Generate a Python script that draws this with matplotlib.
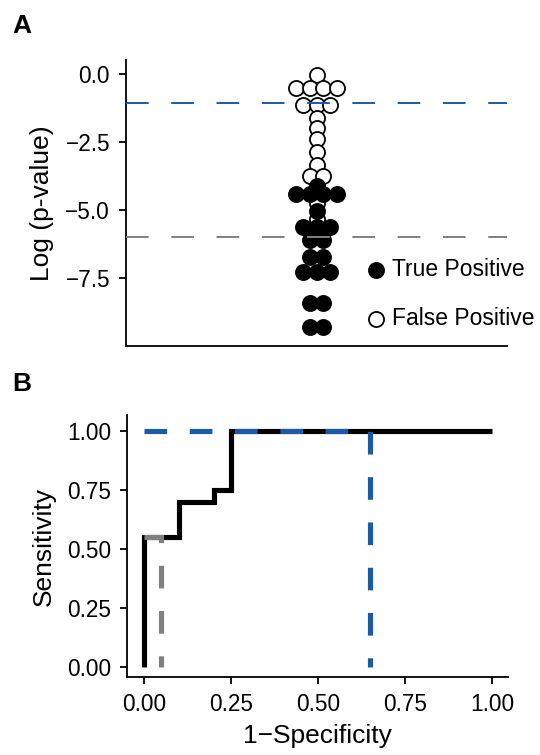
import matplotlib
matplotlib.use("Agg")
import matplotlib.pyplot as plt

plt.rcParams["font.family"] = ["Liberation Sans", "DejaVu Sans"]
plt.rcParams["lines.scale_dashes"] = False

# panel A: log p-values per hit class
tp_logp = [-4.12, -4.41, -4.41, -4.41, -4.41, -5.04, -5.62, -5.62, -5.62,
           -6.10, -6.10, -6.73, -6.73, -7.28, -7.28, -7.28,
           -8.42, -8.42, -9.30, -9.30]
fp_logp = [-0.04, -0.51, -0.51, -0.51, -0.51, -1.15, -1.15, -1.15,
           -1.62, -1.99, -2.39, -2.87, -3.35, -3.75, -3.75, -4.74, -5.33]
cut_blue = -1.07
cut_gray = -6.0

# panel B: ROC curve (1-specificity, sensitivity)
roc_fpr = [0.00, 0.00, 0.10, 0.20, 0.25, 1.00]
roc_tpr = [0.00, 0.55, 0.70, 0.75, 1.00, 1.00]
gray_pt = (0.05, 0.55)
blue_pt = (0.65, 1.00)

BLUE = "#1B5AA5"
GRAY = "#808080"
DASH = (0, (16.3, 16.3))


def swarm(vals, step=0.042):
    # points sharing a value sit in one centred row
    counts = {}
    for v in vals:
        counts[v] = counts.get(v, 0) + 1
    idx = {}
    xs = []
    for v in vals:
        i = idx.get(v, 0)
        idx[v] = i + 1
        xs.append(1 + (i - (counts[v] - 1) / 2) * step)
    return xs


fig = plt.figure(figsize=(5.4, 7.55), dpi=100)
axA = fig.add_axes([126 / 540, 1 - 346 / 755, 381 / 540, 286 / 755])
axB = fig.add_axes([127 / 540, 1 - 677 / 755, 381 / 540, 262 / 755])

for ax in (axA, axB):
    for s in ("top", "right"):
        ax.spines[s].set_visible(False)
    for s in ("left", "bottom"):
        ax.spines[s].set_linewidth(1.3)
    ax.tick_params(labelsize=16.3, length=5, width=1.3, pad=6.5, colors="black")

# --- A
axA.scatter(swarm(fp_logp), fp_logp, s=118, facecolor="white", edgecolor="black",
            linewidth=1.3, zorder=2, label="False Positive")
axA.scatter(swarm(tp_logp), tp_logp, s=118, facecolor="black", edgecolor="black",
            linewidth=1.3, zorder=3, label="True Positive")
axA.axhline(cut_blue, color=BLUE, lw=1.4, linestyle=DASH, zorder=4)
axA.axhline(cut_gray, color=GRAY, lw=1.4, linestyle=DASH, zorder=4)
axA.set_xlim(0.4, 1.6)
axA.set_ylim(-10.0, 0.51)
axA.set_yticks([0, -2.5, -5.0, -7.5])
axA.set_xticks([])
axA.set_ylabel("Log (p-value)", fontsize=19, labelpad=8)

h, l = axA.get_legend_handles_labels()
axA.legend(h[::-1], l[::-1], loc="center left", frameon=False, fontsize=16.5,
           bbox_to_anchor=(367 / 540, 1 - 294 / 755), bbox_transform=fig.transFigure,
           borderpad=0, borderaxespad=0, handlelength=0.8, handletextpad=0.3,
           labelspacing=1.15, scatterpoints=1)

# --- B
axB.step(roc_fpr, roc_tpr, where="post", color="black", lw=3.7,
         solid_capstyle="butt", solid_joinstyle="miter", zorder=2)
axB.plot([0, gray_pt[0], gray_pt[0]], [gray_pt[1], gray_pt[1], 0], color=GRAY,
         lw=3.7, linestyle=DASH, dash_joinstyle="miter", zorder=3)
axB.plot([0, blue_pt[0], blue_pt[0]], [blue_pt[1], blue_pt[1], 0], color=BLUE,
         lw=3.7, linestyle=DASH, dash_joinstyle="miter", zorder=3)
axB.set_xlim(-0.049, 1.046)
axB.set_ylim(-0.044, 1.07)
axB.set_xticks([0, 0.25, 0.5, 0.75, 1.0])
axB.set_yticks([0, 0.25, 0.5, 0.75, 1.0])
axB.set_xlabel("1\u2212Specificity", fontsize=19, labelpad=6)
axB.set_ylabel("Sensitivity", fontsize=19, labelpad=8)

fig.text(12 / 540, 1 - 14 / 755, "A", fontsize=19, fontweight="bold", va="top", ha="left")
fig.text(12 / 540, 1 - 372 / 755, "B", fontsize=19, fontweight="bold", va="top", ha="left")

fig.savefig("out.png", dpi=100)
